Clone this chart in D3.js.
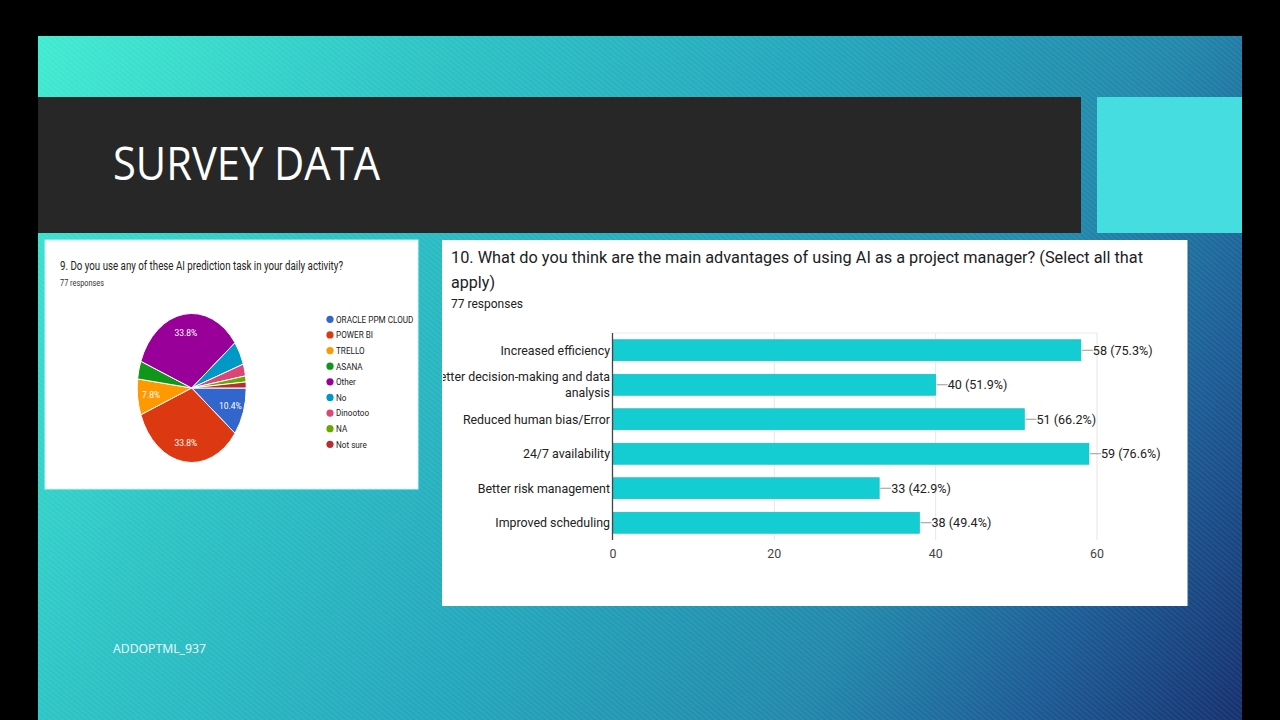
<!DOCTYPE html>
<html>
<head>
<meta charset="utf-8">
<script src="https://cdn.jsdelivr.net/npm/d3@7"></script>
<style>
  html,body{margin:0;padding:0;background:#000;}
  svg{display:block;}
</style>
</head>
<body>
<svg id="c" width="1280" height="720"></svg>
<script>
// ---------- DATA ----------
const pieTitle = "9. Do you use any of these AI prediction task in your daily activity?";
const pieSubtitle = "77 responses";
const pieCategories = ["ORACLE PPM CLOUD","POWER BI","TRELLO","ASANA","Other","No","Dinootoo","NA","Not sure"];
const pieValues = [8, 26, 6, 3, 26, 4, 2, 1, 1];
const pieColors = ["#3366cc","#dc3912","#ff9900","#109618","#990099","#0099c6","#dd4477","#66aa00","#b82e2e"];

const barTitleLines = ["10. What do you think are the main advantages of using AI as a project manager? (Select all that","apply)"];
const barSubtitle = "77 responses";
const barCategories = [["Increased efficiency"],["Better decision-making and data","analysis"],["Reduced human bias/Error"],["24/7 availability"],["Better risk management"],["Improved scheduling"]];
const barValues = [58, 40, 51, 59, 33, 38];
const barPercents = ["75.3%","51.9%","66.2%","76.6%","42.9%","49.4%"];
const xTicks = [0, 20, 40, 60];

const slideTitle = "SURVEY DATA";
const footerText = "ADDOPTML_937";

// ---------- DRAW ----------
const svg = d3.select("#c");
const defs = svg.append("defs");

const grad = defs.append("linearGradient").attr("id","bg").attr("gradientUnits","userSpaceOnUse")
  .attr("x1",38).attr("y1",36).attr("x2",1242).attr("y2",720);
[[0,"#40ebd0"],[0.25,"#2cc4c5"],[0.5,"#23a6bb"],[0.72,"#2188ab"],[0.86,"#1b5c94"],[1,"#15306e"]]
  .forEach(([o,c])=>grad.append("stop").attr("offset",o).attr("stop-color",c));

const pat = defs.append("pattern").attr("id","stripes").attr("patternUnits","userSpaceOnUse")
  .attr("width",4).attr("height",4).attr("patternTransform","rotate(-50)");
pat.append("rect").attr("width",2).attr("height",4).attr("fill","#ffffff").attr("opacity",0.05);

svg.append("rect").attr("width",1280).attr("height",720).attr("fill","#000");
svg.append("rect").attr("x",38).attr("y",36).attr("width",1204).attr("height",684).attr("fill","url(#bg)");
svg.append("rect").attr("x",38).attr("y",36).attr("width",1204).attr("height",684).attr("fill","url(#stripes)");

// title band
svg.append("rect").attr("x",38).attr("y",97).attr("width",1043).attr("height",136).attr("fill","#272727");
svg.append("rect").attr("x",1097).attr("y",97).attr("width",145).attr("height",136).attr("fill","#46dde1");
svg.append("text").attr("x",113).attr("y",180).text(slideTitle)
  .attr("font-family","Open Sans, sans-serif").attr("font-size",46).attr("fill","#fff")
  .attr("textLength",267).attr("lengthAdjust","spacingAndGlyphs");

svg.append("text").attr("x",113).attr("y",653).text(footerText)
  .attr("font-family","Open Sans, sans-serif").attr("font-size",12).attr("fill","#f0fdff")
  .attr("textLength",93).attr("lengthAdjust","spacingAndGlyphs");

// ---------- PIE PANEL ----------
svg.append("rect").attr("x",45).attr("y",240).attr("width",373).attr("height",249)
  .attr("fill","#fff").attr("stroke","#c8f4f4").attr("stroke-width",1);
svg.append("text").attr("x",60).attr("y",270).text(pieTitle)
  .attr("font-family","Roboto, sans-serif").attr("font-size",12.5).attr("fill","#222")
  .attr("textLength",283).attr("lengthAdjust","spacingAndGlyphs");
svg.append("text").attr("x",60).attr("y",286).text(pieSubtitle)
  .attr("font-family","Roboto, sans-serif").attr("font-size",9).attr("fill","#333")
  .attr("textLength",44).attr("lengthAdjust","spacingAndGlyphs");

const cx = 191.7, cy = 388, rx = 54.5, ry = 74.5;
const total = d3.sum(pieValues);
const pie = d3.pie().sort(null).startAngle(Math.PI/2).endAngle(Math.PI/2 + 2*Math.PI);
const arcs = pie(pieValues);
const arc = d3.arc().innerRadius(0).outerRadius(ry);
const pg = svg.append("g").attr("transform",`translate(${cx},${cy}) scale(${rx/ry},1)`);
pg.selectAll("path").data(arcs).join("path")
  .attr("d",arc).attr("fill",(d,i)=>pieColors[i])
  .attr("stroke","#fff").attr("stroke-width",1).attr("vector-effect","non-scaling-stroke");
const labelArc = d3.arc().innerRadius(ry*0.75).outerRadius(ry*0.75);
svg.append("g").selectAll("text").data(arcs.filter(d=>d.value/total>0.06)).join("text")
  .attr("x",d=>cx + labelArc.centroid(d)[0]*rx/ry)
  .attr("y",d=>cy + labelArc.centroid(d)[1] + 3)
  .attr("text-anchor","middle")
  .attr("font-family","Roboto, sans-serif").attr("font-size",8.5).attr("fill","#fff")
  .text(d=>(d.value/total*100).toFixed(1)+"%");

const lg = svg.append("g");
const legendY = d3.scalePoint().domain(pieCategories).range([319.3,444.3]);
lg.selectAll("circle").data(pieCategories).join("circle")
  .attr("cx",330).attr("cy",d=>legendY(d)).attr("r",3.6)
  .attr("fill",(d,i)=>pieColors[i]);
lg.selectAll("text").data(pieCategories).join("text")
  .attr("transform",d=>`translate(336,${legendY(d)+3.4}) scale(0.86,1)`)
  .attr("font-family","Roboto, sans-serif").attr("font-size",9.5).attr("fill","#222")
  .text(d=>d);

// ---------- BAR PANEL ----------
const px = 442, py = 240, pw = 746, ph = 366;
defs.append("clipPath").attr("id","panelClip").append("rect")
  .attr("x",px+1).attr("y",py).attr("width",pw-1).attr("height",ph);
svg.append("rect").attr("x",px).attr("y",py).attr("width",pw).attr("height",ph)
  .attr("fill","#fff");
svg.append("line").attr("x1",px+pw).attr("x2",px+pw).attr("y1",py).attr("y2",py+ph)
  .attr("stroke","#2a5d8f").attr("stroke-width",1);

const bg = svg.append("g").attr("clip-path","url(#panelClip)");
bg.append("text").attr("x",451).attr("y",263).text(barTitleLines[0])
  .attr("font-family","Roboto, sans-serif").attr("font-size",16).attr("fill","#202124")
  .attr("textLength",692).attr("lengthAdjust","spacingAndGlyphs");
bg.append("text").attr("x",451).attr("y",288).text(barTitleLines[1])
  .attr("font-family","Roboto, sans-serif").attr("font-size",16).attr("fill","#202124")
  .attr("textLength",44).attr("lengthAdjust","spacingAndGlyphs");
bg.append("text").attr("x",451).attr("y",308).text(barSubtitle)
  .attr("font-family","Roboto, sans-serif").attr("font-size",12.5).attr("fill","#202124")
  .attr("textLength",72).attr("lengthAdjust","spacingAndGlyphs");

const x = d3.scaleLinear().domain([0,60]).range([613,1097]);
const y = d3.scaleBand().domain(d3.range(barValues.length)).range([333,540])
  .paddingInner(0.39).paddingOuter(0.195);

// grid
bg.append("g").selectAll("line").data(xTicks.slice(1)).join("line")
  .attr("x1",d=>x(d)).attr("x2",d=>x(d)).attr("y1",333).attr("y2",540)
  .attr("stroke","#e6e6e6").attr("stroke-width",1);
bg.append("line").attr("x1",x(0)).attr("x2",x(60)).attr("y1",333).attr("y2",333)
  .attr("stroke","#ececec");

// bars
bg.append("g").selectAll("rect").data(barValues).join("rect")
  .attr("x",x(0)).attr("y",(d,i)=>y(i)).attr("width",d=>x(d)-x(0)).attr("height",y.bandwidth())
  .attr("fill","#14cdd3").attr("stroke","#0fb8c0").attr("stroke-width",0.6);

// axis line
bg.append("line").attr("x1",x(0)-0.5).attr("x2",x(0)-0.5).attr("y1",333).attr("y2",540)
  .attr("stroke","#444").attr("stroke-width",1.3);

// value labels with leader
const vg = bg.append("g");
barValues.forEach((v,i)=>{
  const cyb = y(i) + y.bandwidth()/2;
  vg.append("line").attr("x1",x(v)+1).attr("x2",x(v)+12).attr("y1",cyb).attr("y2",cyb)
    .attr("stroke","#999").attr("stroke-width",1);
  vg.append("text").attr("x",x(v)+12).attr("y",cyb+4.4)
    .attr("font-family","Roboto, sans-serif").attr("font-size",12.6).attr("fill","#222")
    .text(`${v} (${barPercents[i]})`);
});

// category labels
const cg = bg.append("g");
barCategories.forEach((lines,i)=>{
  const cyb = y(i) + y.bandwidth()/2;
  const n = lines.length;
  lines.forEach((t,j)=>{
    cg.append("text").attr("x",610).attr("y",cyb + 4.4 + (j-(n-1)/2)*16)
      .attr("text-anchor","end")
      .attr("font-family","Roboto, sans-serif").attr("font-size",12.4).attr("fill","#222")
      .text(t);
  });
});

// x tick labels
bg.append("g").selectAll("text").data(xTicks).join("text")
  .attr("x",d=>x(d)).attr("y",558).attr("text-anchor","middle")
  .attr("font-family","Roboto, sans-serif").attr("font-size",12.4).attr("fill","#444")
  .text(d=>d);
</script>
</body>
</html>
